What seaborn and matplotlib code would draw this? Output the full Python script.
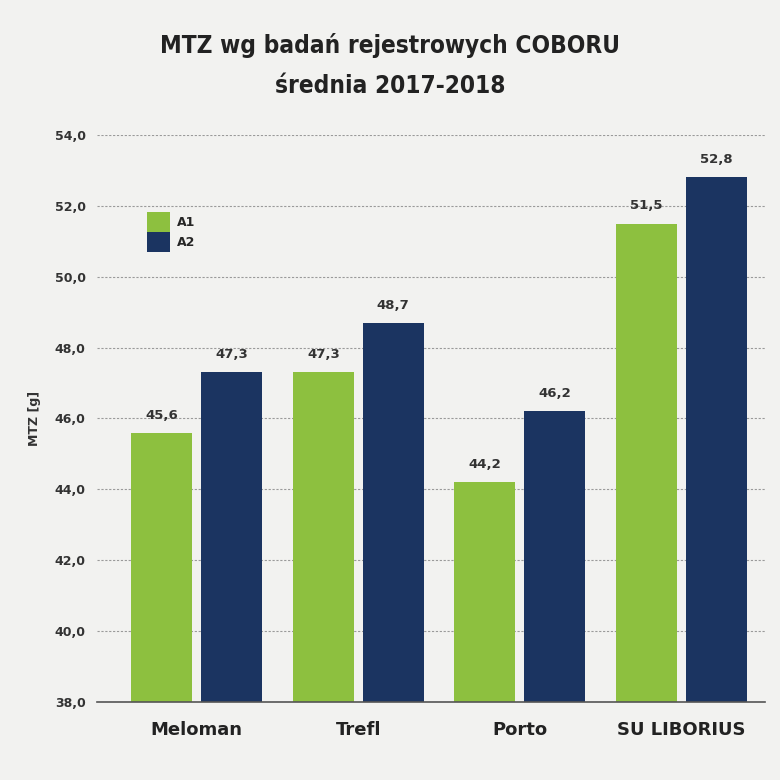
import matplotlib
matplotlib.use('Agg')
import matplotlib.pyplot as plt
import matplotlib.ticker as mticker
import pandas as pd
import seaborn as sns

odmiany = ['Meloman', 'Trefl', 'Porto', 'SU LIBORIUS']
a1 = [45.6, 47.3, 44.2, 51.5]
a2 = [47.3, 48.7, 46.2, 52.8]
grupy = ['A1', 'A2']
kolory = ['#8dc03f', '#1b3461']

df = pd.DataFrame({
    'odmiana': odmiany * 2,
    'grupa': [grupy[0]] * len(a1) + [grupy[1]] * len(a2),
    'mtz': a1 + a2,
})

sns.set_style('white')
plt.rcParams['font.family'] = ['DejaVu Sans']

fig = plt.figure(figsize=(7.8, 7.8), dpi=100, facecolor='#f2f2f0')
ax = fig.add_axes([0.124, 0.1, 0.857, 0.727])
ax.set_facecolor('#f2f2f0')

sns.barplot(data=df, x='odmiana', y='mtz', hue='grupa', palette=kolory,
            width=0.866, gap=0.13, ax=ax, saturation=1, linewidth=0)

ax.set_ylim(38, 54)
ax.set_xlim(-0.62, 3.52)
ax.yaxis.set_major_locator(mticker.MultipleLocator(2))
ax.yaxis.set_major_formatter(mticker.FuncFormatter(lambda v, p: f'{v:.1f}'.replace('.', ',')))
ax.grid(axis='y', color='#9a9a9a', linestyle=(0, (2, 1.5)), linewidth=0.8)
ax.set_axisbelow(True)
for s in ['top', 'right', 'left']:
    ax.spines[s].set_visible(False)
ax.spines['bottom'].set_color('#555555')
ax.spines['bottom'].set_linewidth(1.2)

for cont in ax.containers:
    ax.bar_label(cont, labels=[f'{v:.1f}'.replace('.', ',') for v in cont.datavalues],
                 padding=8, fontsize=9.5, fontweight='bold', color='#333333')

ax.tick_params(axis='y', length=0, pad=8, labelsize=9, labelcolor='#333333')
ax.tick_params(axis='x', length=0, pad=14, labelsize=13, labelcolor='#222222')
for t in ax.get_yticklabels():
    t.set_fontweight('bold')
ax.set_xticks(range(len(odmiany)))
ax.set_xticklabels(['Meloman', 'Trefl', 'Porto', 'SU LIBORIUS'], fontweight='bold')
ax.set_xlabel('')
ax.set_ylabel('MTZ [g]', fontsize=9, fontweight='bold', color='#333333', labelpad=10)

leg = ax.legend(loc='upper left', bbox_to_anchor=(0.066, 0.875), frameon=False,
                handlelength=1.8, handleheight=2.1, handletextpad=0.6,
                labelspacing=0.0, borderpad=0, prop={'weight': 'bold', 'size': 9})

tytul = dict(ha='center', va='center', fontsize=17.5, fontweight='bold', color='#222222',
             family=['DejaVu Sans'], fontstretch='condensed')
fig.text(0.5, 0.942, 'MTZ wg badań rejestrowych COBORU', **tytul)
fig.text(0.5, 0.890, 'średnia 2017-2018', **tytul)

fig.savefig('out.png', dpi=100, facecolor=fig.get_facecolor())
